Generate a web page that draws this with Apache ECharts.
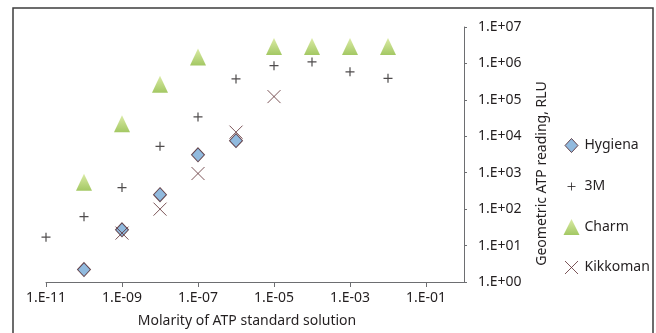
<!DOCTYPE html>
<html>
<head>
<meta charset="utf-8">
<script src="https://cdn.jsdelivr.net/npm/echarts@6/dist/echarts.min.js"></script>
<style>
  html, body { margin: 0; padding: 0; background: #fff; }
  #chart { width: 656px; height: 333px; }
</style>
</head>
<body>
<div id="chart"></div>
<script>
// ---- data ----
const xTicks = [1e-11, 1e-9, 1e-7, 1e-5, 1e-3, 1e-1];
const yTicks = [1, 1e1, 1e2, 1e3, 1e4, 1e5, 1e6, 1e7];

const hygienaX = [1e-10, 1e-9, 1e-8, 1e-7, 1e-6];
const hygienaY = [2.2, 27, 250, 3100, 7600];

const m3X = [1e-11, 1e-10, 1e-9, 1e-8, 1e-7, 1e-6, 1e-5, 1e-4, 1e-3, 1e-2];
const m3Y = [17, 62, 390, 5300, 34000, 375000, 870000, 1100000, 590000, 390000];

const charmX = [1e-10, 1e-9, 1e-8, 1e-7, 1e-5, 1e-4, 1e-3, 1e-2];
const charmY = [550, 22000, 270000, 1500000, 2900000, 2900000, 2900000, 2900000];

const kikX = [1e-9, 1e-8, 1e-7, 1e-6, 1e-5];
const kikY = [22, 100, 950, 13000, 123000];

const FONT = "Noto Sans";
const INK = "#231f20";

function pairs(xs, ys) {
    return xs.map((x, i) => [x, ys[i]]);
}

function sciLabel(v) {
    const e = Math.round(Math.log10(v));
    return "1.E" + (e < 0 ? "-" : "+") + String(Math.abs(e)).padStart(2, "0");
}

const PLUS = "path://M5,0L5,10M0,5L10,5";
const CROSS = "path://M0,0L10,10M10,0L0,10";

// legend icons padded inside a 16x16 box so they come out smaller
const LEG_DIAMOND = "path://M0,0M16,16M8,1L14.5,8L8,15L1.5,8Z";
const LEG_PLUS = "path://M0,0M16,16M4,8L12,8M8,4L8,12";
const LEG_CROSS = "path://M0,0M16,16M1.5,1.5L14.5,14.5M14.5,1.5L1.5,14.5";

const chart = echarts.init(document.getElementById("chart"));

chart.setOption({
    animation: false,
    backgroundColor: "#fff",
    textStyle: { fontFamily: FONT, color: INK },

    grid: { left: 46, right: 192, top: 27, bottom: 50 },

    xAxis: {
        type: "log",
        logBase: 10,
        min: 1e-11,
        max: 1,
        name: "Molarity of ATP standard solution",
        nameLocation: "middle",
        nameGap: 32,
        nameTextStyle: { fontSize: 14, color: INK, fontFamily: FONT, padding: [0, 16, 0, 0] },
        axisLine: { lineStyle: { color: "#6d6e71", width: 1 } },
        axisTick: { show: true, length: 5, lineStyle: { color: "#6d6e71" }, customValues: xTicks },
        axisLabel: { fontSize: 14, color: INK, fontFamily: FONT, margin: 9, customValues: xTicks, formatter: sciLabel },
        splitLine: { show: false },
        minorTick: { show: false }
    },

    yAxis: {
        type: "log",
        logBase: 10,
        min: 1,
        max: 1e7,
        position: "right",
        name: "Geometric ATP reading, RLU",
        nameLocation: "middle",
        nameRotate: 90,
        nameGap: 71,
        nameTextStyle: { fontSize: 14, color: INK, fontFamily: FONT, padding: [0, 38, 0, 0] },
        axisLine: { show: true, lineStyle: { color: "#6d6e71", width: 1 } },
        axisTick: { show: true, length: 3, lineStyle: { color: "#6d6e71" }, customValues: yTicks },
        axisLabel: { fontSize: 14, color: INK, fontFamily: FONT, margin: 14, customValues: yTicks, formatter: sciLabel },
        splitLine: { show: false }
    },

    legend: {
        orient: "vertical",
        left: 556,
        top: 132,
        padding: 5,
        itemWidth: 16,
        itemHeight: 16,
        itemGap: 22,
        textStyle: { fontSize: 14, color: INK, fontFamily: FONT },
        itemStyle: { borderWidth: 1 },
        data: [
            { name: "Hygiena", icon: LEG_DIAMOND },
            { name: "3M", icon: LEG_PLUS },
            { name: "Charm" },
            { name: "Kikkoman", icon: LEG_CROSS }
        ]
    },

    graphic: [{
        type: "rect",
        silent: true,
        shape: { x: 13, y: 8, width: 640, height: 340 },
        style: { fill: "none", stroke: "#3d3d3d", lineWidth: 1.5 }
    }],

    series: [
        {
            name: "Hygiena",
            type: "scatter",
            symbol: "diamond",
            symbolSize: [13, 14],
            itemStyle: { color: "#76a9d6", borderColor: "#4b1f25", borderWidth: 1 },
            data: pairs(hygienaX, hygienaY),
            z: 4
        },
        {
            name: "3M",
            type: "scatter",
            symbol: PLUS,
            symbolSize: 9,
            itemStyle: { color: "none", borderColor: INK, borderWidth: 1.2 },
            data: pairs(m3X, m3Y),
            z: 3
        },
        {
            name: "Charm",
            type: "scatter",
            symbol: "triangle",
            symbolSize: [16, 17],
            itemStyle: {
                color: new echarts.graphic.LinearGradient(0, 0, 0, 1, [
                    { offset: 0, color: "#d2e68f" },
                    { offset: 1, color: "#8cba3c" }
                ]),
                borderWidth: 0
            },
            data: pairs(charmX, charmY),
            z: 2
        },
        {
            name: "Kikkoman",
            type: "scatter",
            symbol: CROSS,
            symbolSize: 13,
            itemStyle: { color: "none", borderColor: "#5b2b2e", borderWidth: 1 },
            data: pairs(kikX, kikY),
            z: 5
        }
    ]
});
</script>
</body>
</html>
